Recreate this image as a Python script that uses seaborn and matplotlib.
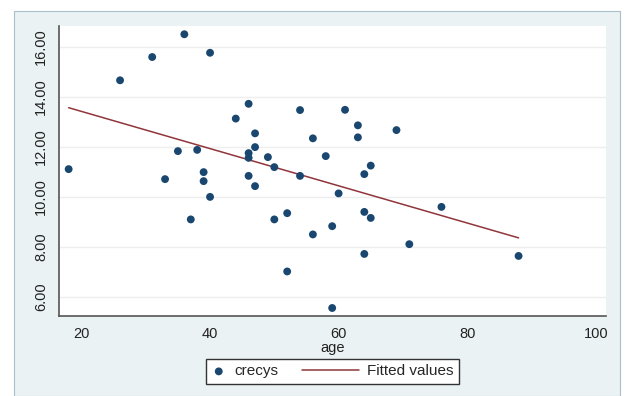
import numpy as np
import pandas as pd
import seaborn as sns
import matplotlib.pyplot as plt
from matplotlib.patches import Rectangle
from matplotlib.legend_handler import HandlerLine2D

# values
age = [18, 26, 31, 33, 35, 36, 37, 38, 39, 39, 40, 40, 44, 46, 46, 46, 46,
       47, 47, 47, 49, 50, 50, 52, 52, 54, 54, 56, 56, 58, 59, 59, 60, 61,
       63, 63, 64, 64, 64, 65, 65, 69, 71, 76, 88]
crecys = [11.11, 14.66, 15.59, 10.71, 11.83, 16.50, 9.10, 11.88, 10.99, 10.63,
          15.76, 10.00, 13.13, 13.72, 11.75, 11.56, 10.84, 12.54, 11.99, 10.43,
          11.59, 11.19, 9.10, 9.35, 7.02, 13.47, 10.84, 12.34, 8.50, 11.63,
          8.83, 5.56, 10.14, 13.48, 12.86, 12.38, 10.91, 9.40, 7.72, 11.25,
          9.16, 12.67, 8.11, 9.60, 7.64]
x_ticks = [20, 40, 60, 80, 100]
y_ticks = [6, 8, 10, 12, 14, 16]

df = pd.DataFrame({'age': age, 'crecys': crecys})
# линейная регрессия для "Fitted values"
slope, icpt = np.polyfit(df['age'], df['crecys'], 1)
fit = pd.DataFrame({'age': [df['age'].min(), df['age'].max()]})
fit['fitted'] = icpt + slope * fit['age']


class LongLine(HandlerLine2D):
    # линия в легенде длиннее, чем маркер (как в Stata)
    def get_xdata(self, legend, xdescent, ydescent, width, height, fontsize):
        xd = np.array([-xdescent - 2.7 * fontsize, -xdescent + width])
        return xd, xd


sns.set_style('white')
plt.rcParams['font.family'] = ['Liberation Sans', 'DejaVu Sans']

fig = plt.figure(figsize=(6.26, 3.96), dpi=100)
fig.patch.set_facecolor('white')
# светлая панель графика
fig.add_artist(Rectangle((14 / 626, 0), 606 / 626, 385 / 396,
                         transform=fig.transFigure, facecolor='#eaf2f3',
                         edgecolor='#a9c0cc', linewidth=0.8, zorder=-10))

ax = fig.add_axes([59 / 626, 80 / 396, 547 / 626, 290 / 396])
ax.set_facecolor('white')
for y in y_ticks:
    ax.axhline(y, color='#eeeeee', lw=1, zorder=0)

sns.scatterplot(data=df, x='age', y='crecys', ax=ax, color='#1a476f',
                s=32, edgecolor='none', label='crecys', zorder=3)
sns.lineplot(data=fit, x='age', y='fitted', ax=ax, color='#90353b',
             lw=1.1, label='Fitted values', zorder=2)

ax.set_xlim(16.5, 101.6)
ax.set_ylim(5.24, 16.83)
ax.set_xticks(x_ticks)
ax.set_yticks(y_ticks)
ax.set_yticklabels([f'{v:.2f}' for v in y_ticks], rotation=90, va='center')
ax.tick_params(axis='both', direction='out', length=5, width=1,
               color='#555555', labelsize=10.5, labelcolor='#222222', pad=3)
ax.set_xlabel('age', fontsize=10.5, labelpad=0, color='#222222')
ax.set_ylabel('')
for side in ['top', 'right']:
    ax.spines[side].set_visible(False)
for side in ['left', 'bottom']:
    ax.spines[side].set_color('#555555')
    ax.spines[side].set_linewidth(1.2)

handles, labels = ax.get_legend_handles_labels()
leg = ax.legend(handles, labels, loc='center', bbox_to_anchor=(0.5, -0.191),
                ncol=2, frameon=True, fancybox=False, fontsize=11,
                handlelength=1.0, handletextpad=0.55, columnspacing=4.25,
                borderpad=0.35, handler_map={handles[1]: LongLine()})
leg.get_frame().set_edgecolor('#333333')
leg.get_frame().set_linewidth(1)
leg.get_frame().set_alpha(1)

fig.savefig('out.png', dpi=100)
